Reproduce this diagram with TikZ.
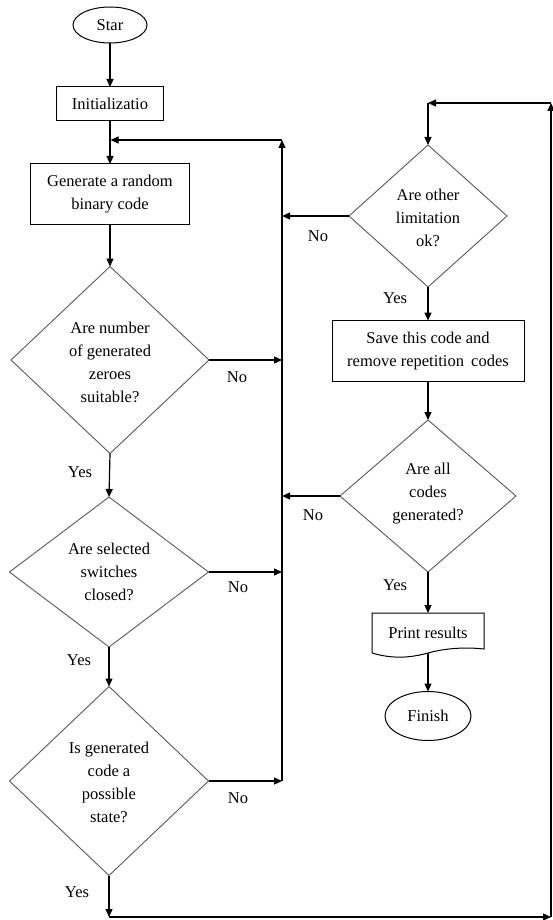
\documentclass[tikz,border=0pt]{standalone}
\usepackage{fontspec}
\setmainfont{Liberation Serif}
\usetikzlibrary{shapes.geometric,arrows.meta}
\begin{document}
\begin{tikzpicture}[x=1pt,y=-1pt,
  every node/.style={font=\fontsize{16.5}{23}\selectfont},
  conn/.style={line width=1.2pt, -{Triangle[length=8pt,width=7pt]}},
  boxn/.style={draw, line width=1pt, rectangle, inner sep=0pt, outer sep=0pt, align=center},
  termn/.style={draw, line width=1pt, ellipse, inner sep=0pt, outer sep=0pt},
  dian/.style={draw=black!65, line width=0.9pt, diamond, inner sep=0pt, outer sep=0pt},
  qtext/.style={align=center, inner sep=0pt},
  lbl/.style={inner sep=0pt}]
\useasboundingbox (0,0) rectangle (552,920);

% left column
\node[termn, minimum width=74pt, minimum height=36pt] (start) at (110,25) {Star};
\node[boxn, minimum width=107pt, minimum height=34pt] (init) at (110,104) {Initializatio};
\node[boxn, minimum width=159pt, minimum height=60pt] (gen) at (110,194) {Generate a random\\binary code};
\node[dian, minimum width=198pt, minimum height=187pt] (d1) at (110,360) {};
\node[qtext] (t1) at (110,362) {Are number\\of generated\\zeroes\\suitable?};
\node[dian, minimum width=199pt, minimum height=150pt] (d2) at (109,572) {};
\node[qtext] (t2) at (109,572) {Are selected\\switches\\closed?};
\node[dian, minimum width=199pt, minimum height=189pt] (d3) at (109,781) {};
\node[qtext] (t3) at (109,782) {Is generated\\code a\\possible\\state?};

% right column
\node[dian, minimum width=158pt, minimum height=142pt] (d4) at (428,216) {};
\node[qtext] (t4) at (428,218) {Are other\\limitation\\ok?};
\node[boxn, minimum width=192pt, minimum height=61pt] (save) at (428,351) {Save this code and\\remove repetition\hspace{3pt} codes};
\node[dian, minimum width=176pt, minimum height=152pt] (d5) at (428,496) {};
\node[qtext] (t5) at (428,494) {Are all\\codes\\generated?};
\node[minimum width=112pt, minimum height=40pt, inner sep=0pt, outer sep=0pt] (pr) at (428,633) {Print results};
\draw[line width=1pt] (pr.south west) -- (pr.north west) -- (pr.north east) -- ([yshift=4pt]pr.south east)
  .. controls (466,647) and (446,648) .. (428,653)
  .. controls (410,658) and (392,659) .. (pr.south west) -- cycle;
\node[termn, minimum width=86pt, minimum height=49pt] (fin) at (428,716) {Finish};

% helper points
\coordinate (la) at (282,140);
\coordinate (lb) at (282,781);
\coordinate (j1) at (110,140);
\coordinate (bl) at (109,917);
\coordinate (br) at (551,917);
\coordinate (tr) at (551,103);
\coordinate (tl) at (428,103);

% connectors
\draw[conn] (start) -- (init);
\draw[conn] (init) -- (gen);
\draw[conn] (gen) -- (d1.north);
\draw[conn] (d1.south) -- (d2.north);
\draw[conn] (d2.south) -- (d3.north);
\draw[conn] (d1.east) -- (d1.east -| la);
\draw[conn] (d2.east) -- (d2.east -| la);
\draw[conn] (d3.east) -- (lb);
\draw[conn] (lb) -- (la);
\draw[conn, shorten >=0.6pt] (la) -- (j1);
\draw[conn] (d3.south) -- (bl);
\draw[conn] (bl) -- (br);
\draw[conn] (br) -- (tr);
\draw[conn] (tr) -- (tl);
\draw[conn] (tl) -- (d4.north);
\draw[conn] (d4.west) -- (d4.west -| la);
\draw[conn] (d4.south) -- (save.north);
\draw[conn] (save.south) -- (d5.north);
\draw[conn] (d5.west) -- (d5.west -| la);
\draw[conn] (d5.south) -- (pr.north);
\draw[conn] (pr.south) -- (fin.north);

% labels
\node[lbl] (n1) at (237,377) {No};
\node[lbl] (y1) at (80,472) {Yes};
\node[lbl] (n2) at (238,587) {No};
\node[lbl] (y2) at (79,660) {Yes};
\node[lbl] (n3) at (238,798) {No};
\node[lbl] (y3) at (77,892) {Yes};
\node[lbl] (n4) at (318,236) {No};
\node[lbl] (y4) at (395,298) {Yes};
\node[lbl] (n5) at (313,515) {No};
\node[lbl] (y5) at (395,585) {Yes};
\end{tikzpicture}
\end{document}
